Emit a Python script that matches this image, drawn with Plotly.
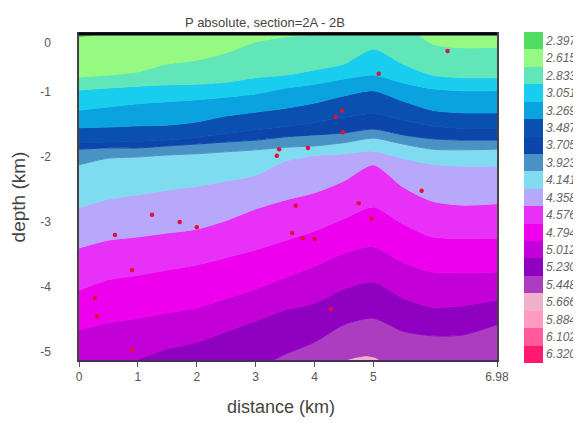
import plotly.graph_objects as go

levels = ["2.397","2.615","2.833","3.051","3.269","3.487","3.705","3.923","4.141","4.358",
          "4.576","4.794","5.012","5.230","5.448","5.666","5.884","6.102","6.320"]
colors = ["#4fdc5f","#96f982","#60e6b8","#18cdee","#0aa3e0","#0a50b0","#0c46aa","#4a92c4","#7fdcf0","#b8a8fb",
          "#e830f8","#ee00ee","#c400d8","#9000c0","#ac3cc0","#f0b0c8","#ff9cc0","#ff5a9c","#ff1a70"]

distance = [0,0.49,1.0,1.49,2.0,2.49,3.0,3.51,4.0,4.5,5.0,5.5,6.0,6.5,7.1]
top_edge = [-0.108]*15
top_2833 = [-0.77,-0.74,-0.69,-0.57,-0.51,-0.40,-0.23,-0.15,-0.11,-0.05,-0.02,0.05,-0.26,-0.32,-0.31]
top_3051 = [-0.97,-0.94,-0.91,-0.89,-0.88,-0.85,-0.78,-0.74,-0.66,-0.57,-0.34,-0.57,-0.74,-0.78,-0.78]
top_3269 = [-1.28,-1.23,-1.18,-1.15,-1.12,-1.08,-1.03,-0.94,-0.88,-0.80,-0.74,-0.86,-0.95,-0.98,-0.98]
top_3487 = [-1.55,-1.54,-1.52,-1.51,-1.46,-1.37,-1.31,-1.25,-1.17,-1.06,-0.98,-1.14,-1.28,-1.32,-1.32]
top_3705 = [-1.78,-1.77,-1.76,-1.74,-1.70,-1.64,-1.58,-1.53,-1.47,-1.39,-1.33,-1.43,-1.52,-1.56,-1.56]
top_3923 = [-1.88,-1.86,-1.86,-1.83,-1.80,-1.77,-1.74,-1.69,-1.66,-1.63,-1.57,-1.66,-1.72,-1.74,-1.74]
top_4141 = [-2.12,-2.02,-2.00,-1.97,-1.95,-1.92,-1.89,-1.85,-1.83,-1.78,-1.71,-1.80,-1.88,-1.89,-1.88]
top_4358 = [-2.78,-2.65,-2.58,-2.51,-2.45,-2.37,-2.28,-2.06,-1.98,-1.95,-1.91,-2.02,-2.11,-2.14,-2.14]
top_4576 = [-3.40,-3.28,-3.23,-3.17,-3.11,-2.98,-2.80,-2.66,-2.55,-2.37,-2.12,-2.46,-2.68,-2.74,-2.72]
top_4794 = [-4.05,-3.89,-3.82,-3.74,-3.66,-3.55,-3.43,-3.28,-3.14,-2.95,-2.77,-3.03,-3.23,-3.25,-3.25]
top_5012 = [-4.66,-4.55,-4.48,-4.40,-4.32,-4.18,-4.03,-3.85,-3.68,-3.48,-3.38,-3.62,-3.77,-3.78,-3.77]
top_5230 = [-5.43,-5.28,-5.11,-4.95,-4.85,-4.69,-4.52,-4.35,-4.25,-4.03,-3.92,-4.17,-4.31,-4.29,-4.20]
top_5448 = [-6.05,-5.89,-5.74,-5.58,-5.46,-5.35,-5.25,-5.03,-4.85,-4.58,-4.48,-4.68,-4.75,-4.74,-4.58]
floor_edge = [-6.2]*15

band_tops = [top_edge, top_2833, top_3051, top_3269, top_3487, top_3705, top_3923,
             top_4141, top_4358, top_4576, top_4794, top_5012, top_5230, top_5448, floor_edge]
band_levels = ["2.615","2.833","3.051","3.269","3.487","3.705","3.923",
               "4.141","4.358","4.576","4.794","5.012","5.230","5.448"]

corner_x = [0,0,0.15,0.35,0]
corner_y = [-0.108,-0.16,-0.14,-0.108,-0.108]
dome_x = [4.55,4.7,4.88,5.03,5.1,4.55]
dome_y = [-5.125,-5.09,-5.06,-5.09,-5.125,-5.125]

event_x = [6.26,5.09,4.47,4.36,4.48,3.40,3.36,3.89,3.68,4.75,5.82,0.61,1.24,1.71,2.0,0.90,0.27,0.31,0.90,3.62,3.80,4.0,4.97,4.28]
event_y = [-0.37,-0.72,-1.29,-1.38,-1.62,-1.88,-1.98,-1.86,-2.75,-2.71,-2.52,-3.20,-2.89,-3.0,-3.08,-3.74,-4.17,-4.45,-4.97,-3.17,-3.25,-3.26,-2.95,-4.34]

x_tick_vals = [0,1,2,3,4,5,7.1]
x_tick_text = ["0","1","2","3","4","5","6.98"]
y_tick_vals = [-0.25,-1,-2,-3,-4,-5]
y_tick_text = ["0","-1","-2","-3","-4","-5"]

color_of = dict(zip(levels, colors))
fig = go.Figure()

fig.add_trace(go.Scatter(x=distance, y=band_tops[0], mode="lines", line=dict(width=0), hoverinfo="skip", showlegend=False))
for lev, edge in zip(band_levels, band_tops[1:]):
    fig.add_trace(go.Scatter(x=distance, y=edge, mode="lines",
                             line=dict(width=1, color=color_of[lev], shape="spline", smoothing=0.7),
                             fill="tonexty", fillcolor=color_of[lev], showlegend=False, name=lev))
fig.add_trace(go.Scatter(x=corner_x, y=corner_y, mode="lines", line=dict(width=0), fill="toself",
                         fillcolor=color_of["2.397"], showlegend=False))
fig.add_trace(go.Scatter(x=dome_x, y=dome_y, mode="lines", line=dict(width=0), fill="toself",
                         fillcolor=color_of["5.666"], showlegend=False))
fig.add_trace(go.Scatter(x=event_x, y=event_y, mode="markers", showlegend=False,
                         marker=dict(size=4.5, color="#e0103a", symbol="circle", line=dict(width=0))))

fig.add_trace(go.Bar(x=[1]*len(levels), y=levels, orientation="h", width=1, marker=dict(color=colors, line=dict(width=0)),
                     xaxis="x2", yaxis="y2", showlegend=False))

fig.update_layout(
    width=573, height=415, autosize=False,
    margin=dict(l=71, r=0, t=22, b=58),
    paper_bgcolor="white", plot_bgcolor="white",
    font=dict(family="Liberation Sans", color="#555555"),
    bargap=0,
    title=dict(text="P absolute, section=2A - 2B", font=dict(size=13, color="#444444"),
               x=257/573, xanchor="center", y=1-14/415, yanchor="middle"),
    xaxis=dict(domain=[0, 418/502], range=[0, 7.1], tickmode="array", tickvals=x_tick_vals, ticktext=x_tick_text,
               ticks="outside", ticklen=5, tickcolor="#555555", showgrid=False, zeroline=False,
               showline=True, linecolor="#44305a", linewidth=1.5, mirror=True, automargin=False,
               tickfont=dict(size=12, color="#555555")),
    yaxis=dict(domain=[5/335, 331/335], range=[-5.123, -0.108], tickmode="array", tickvals=y_tick_vals, ticktext=y_tick_text,
               ticks="", showgrid=False, zeroline=False, showline=True, linecolor="#444444", linewidth=1.5, mirror=True,
               automargin=False, tickfont=dict(size=12, color="#555555"), ticklabelstandoff=24,
               title=dict(text="depth (km)", standoff=16, font=dict(size=19, color="#444444"))),
    xaxis2=dict(domain=[445/502, 464/502], range=[0, 1], visible=False, anchor="y2", automargin=False),
    yaxis2=dict(domain=[2/335, 333/335], type="category", categoryorder="array", categoryarray=levels,
                autorange="reversed", side="right", anchor="x2", showgrid=False, zeroline=False, showline=False,
                ticks="", ticklabelstandoff=2, automargin=False,
                tickfont=dict(size=12, family="Liberation Sans", style="italic", color="#666666")),
    shapes=[dict(type="line", xref="x domain", yref="y domain", x0=0, x1=1, y0=1, y1=1,
                 line=dict(color="black", width=3), layer="above")],
    annotations=[dict(text="distance (km)", xref="paper", yref="paper", x=201.5/502, y=-42/335, showarrow=False,
                      xanchor="center", yanchor="middle", font=dict(size=18, color="#444444"))],
)
fig.write_html("out.html")
